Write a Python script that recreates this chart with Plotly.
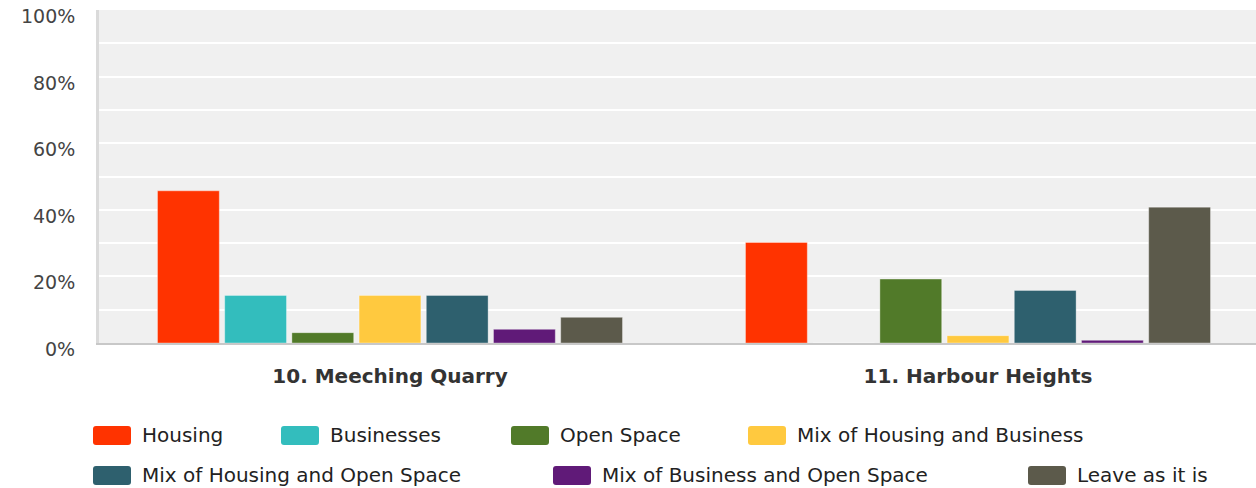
import plotly.graph_objects as go

categories = ["10. Meeching Quarry", "11. Harbour Heights"]
series_names = ["Housing", "Businesses", "Open Space", "Mix of Housing and Business",
                "Mix of Housing and Open Space", "Mix of Business and Open Space", "Leave as it is"]
housing = [45.7, 30.2]
businesses = [14.3, 0]
open_space = [3.1, 19.2]
mix_housing_business = [14.3, 2.2]
mix_housing_open = [14.3, 15.8]
mix_business_open = [4.1, 0.8]
leave_as_is = [7.7, 40.8]
y_tick_values = [0, 20, 40, 60, 80, 100]
y_tick_labels = ["0%", "20%", "40%", "60%", "80%", "100%"]

series_values = [housing, businesses, open_space, mix_housing_business,
                 mix_housing_open, mix_business_open, leave_as_is]
colors = ["#ff3300", "#33bdbd", "#517a29", "#ffc93f", "#2e606e", "#601a78", "#5c5a4b"]

W, H = 1256, 488
ML, MR, MT, MB = 99, 0, 10, 145
PW = W - ML - MR
PH = H - MT - MB

fig = go.Figure()
for name, vals, col in zip(series_names, series_values, colors):
    fig.add_trace(go.Bar(
        x=categories, y=vals, name=name,
        marker=dict(color=col, line=dict(color="rgba(255,255,255,0.35)", width=1)),
        showlegend=False,
    ))


def px_x(px):
    return (px - ML) / PW


def px_y(py):
    return (H - MB - py) / PH


# custom legend (rounded swatches + labels)
legend_layout = [
    (93, 140, 435.5), (281, 328, 435.5), (511, 558, 435.5), (748, 795, 435.5),
    (93, 140, 475.5), (553, 600, 475.5), (1028, 1075, 475.5),
]
shapes = []
annotations = []
sw, sh, r = 38, 19, 3
for (sx, tx, cy), name, col in zip(legend_layout, series_names, colors):
    x0, x1 = sx, sx + sw
    y0, y1 = cy - sh / 2, cy + sh / 2
    pts = [
        ("M", x0 + r, y0), ("L", x1 - r, y0), ("Q", x1, y0, x1, y0 + r),
        ("L", x1, y1 - r), ("Q", x1, y1, x1 - r, y1), ("L", x0 + r, y1),
        ("Q", x0, y1, x0, y1 - r), ("L", x0, y0 + r), ("Q", x0, y0, x0 + r, y0),
    ]
    path = ""
    for p in pts:
        cmd = p[0]
        coords = p[1:]
        s = cmd
        for i in range(0, len(coords), 2):
            s += f"{px_x(coords[i]):.6f},{px_y(coords[i+1]):.6f} "
        path += s
    path += "Z"
    shapes.append(dict(type="path", xref="paper", yref="paper", path=path,
                       fillcolor=col, line=dict(width=0), layer="above"))
    annotations.append(dict(xref="paper", yref="paper", x=px_x(tx), y=px_y(cy - 1),
                            xanchor="left", yanchor="middle", showarrow=False,
                            text=name, font=dict(family="DejaVu Sans", size=20, color="#222222")))

# y tick labels (slightly below their grid lines, as in the reference)
for v, lab in zip(y_tick_values, y_tick_labels):
    annotations.append(dict(xref="paper", yref="y", x=0, y=v, xanchor="right", yanchor="middle",
                            xshift=-22, yshift=-6, showarrow=False, text=lab,
                            font=dict(family="DejaVu Sans", size=19, color="#444444")))

# x range so category centres fall at the reference positions
unit = 588.0
x0r = -(390 - ML) / unit
x1r = x0r + PW / unit

fig.update_layout(
    width=W, height=H,
    margin=dict(l=ML, r=MR, t=MT, b=MB),
    paper_bgcolor="white", plot_bgcolor="#f0f0f0",
    barmode="group", bargap=0.2, bargroupgap=0.08,
    shapes=shapes, annotations=annotations,
    font=dict(family="DejaVu Sans"),
)
fig.update_xaxes(
    range=[x0r, x1r], showgrid=False, zeroline=False,
    showline=True, linecolor="#c8c8c8", linewidth=2,
    ticks="", ticklabelstandoff=14,
    tickfont=dict(family="DejaVu Sans", size=20, color="#333333", weight="bold"),
)
fig.update_yaxes(
    range=[0, 100], tickvals=y_tick_values, showticklabels=False,
    showgrid=True, gridcolor="white", gridwidth=2, zeroline=False,
    minor=dict(dtick=10, showgrid=True, gridcolor="white", gridwidth=2),
    showline=True, linecolor="#dadada", linewidth=3,
    ticks="",
)

fig.write_html("out.html")
